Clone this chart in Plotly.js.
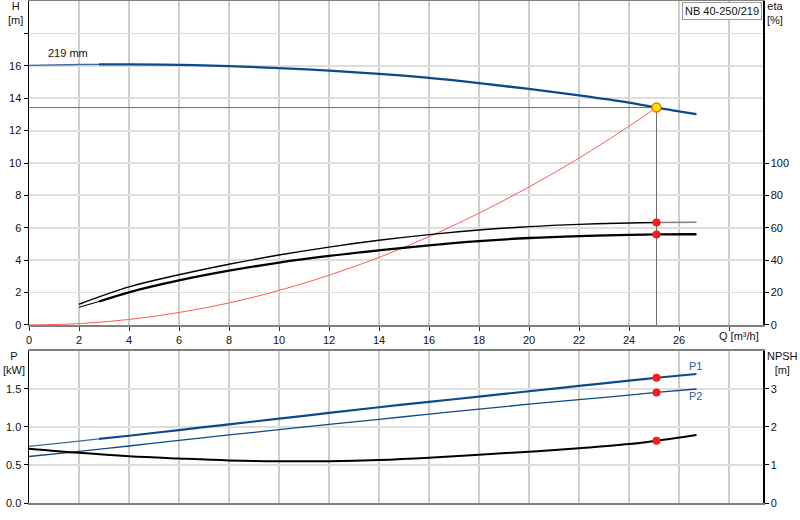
<!DOCTYPE html>
<html><head><meta charset="utf-8">
<script src="https://cdn.plot.ly/plotly-3.0.1.min.js"></script>
<style>html,body{margin:0;padding:0;background:#fff}#chart{width:800px;height:520px}</style>
</head><body><div id="chart"></div>
<script>
// ---- tick labels ----
const qTicks = [0,2,4,6,8,10,12,14,16,18,20,22,24,26,28];
const qTickText = ['0','2','4','6','8','10','12','14','16','18','20','22','24','26',''];
const hTicks = [0,2,4,6,8,10,12,14,16,18];
const hTickText = ['0','2','4','6','8','10','12','14','16',''];
const etaTicks = [0,20,40,60,80,100];
const pTicks = [0,0.5,1,1.5];
const pTickText = ['0.0','0.5','1.0','1.5'];
const npshTicks = [0,1,2,3];

// ---- duty point flow ----
const dutyQ = 25.1;
const startQ = 2.8;

// ---- pump head curve (219 mm) ----
const qHead = [0,2,2.8,4,6,8,10,12,14,16,18,20,22,24,25.1,26.7];
const headH = [16.03,16.08,16.09,16.09,16.06,15.98,15.86,15.7,15.5,15.25,14.93,14.57,14.17,13.72,13.42,13.02];

// ---- system curve ----
const qSystem = [0,2,4,6,8,10,12,14,16,18,20,22,24,25.1];
const systemH = [0,0.085,0.34,0.77,1.36,2.13,3.07,4.17,5.45,6.9,8.52,10.3,12.27,13.42];

// ---- efficiencies ----
const qEta1 = [2,4,6,8,10,12,14,16,18,20,22,24,25.1,26.7];
const eta1  = [12.8,23.5,31,37.5,43.2,48.1,52.3,55.8,58.6,60.7,62.1,63,63.3,63.4];
const qEta2 = [2,2.8,4,6,8,10,12,14,16,18,20,22,24,25.1,26.7];
const eta2  = [11,14.5,20.2,27.5,33.5,38.5,42.6,46.1,49.2,51.8,53.7,54.9,55.6,55.9,56];

// ---- power ----
const qP1 = [0,2,2.8,4,6,8,10,12,14,16,18,20,22,24,25.1,26.7];
const p1  = [0.745,0.815,0.843,0.885,0.96,1.035,1.11,1.185,1.26,1.33,1.40,1.47,1.54,1.61,1.648,1.697];
const qP2 = [0,2,4,6,8,10,12,14,16,18,20,22,24,25.1,26.7];
const p2  = [0.612,0.68,0.75,0.825,0.895,0.965,1.035,1.10,1.17,1.235,1.30,1.36,1.42,1.455,1.50];

// ---- NPSH ----
const qNpsh = [0,2,4,6,8,10,12,14,16,18,20,22,24,25.1,26.7];
const npsh  = [1.43,1.32,1.23,1.17,1.12,1.10,1.10,1.13,1.19,1.27,1.35,1.44,1.55,1.64,1.79];

function seg(xs, ys, lo, hi){
  const x=[],y=[];
  xs.forEach((v,i)=>{ if(v>=lo && v<=hi){x.push(v);y.push(ys[i]);} });
  return {x,y};
}
function at(xs, ys, q){ return ys[xs.indexOf(q)]; }

const BLUE = '#0d4a8b';
const dutyH = at(qHead, headH, dutyQ);

function line(s, xa, ya, color, width){
  return {x:s.x, y:s.y, xaxis:xa, yaxis:ya, mode:'lines', line:{color:color, width:width, shape:'spline', smoothing:1}, hoverinfo:'skip'};
}
function dots(xv, yv, xa, ya){
  return {x:xv, y:yv, xaxis:xa, yaxis:ya, mode:'markers', marker:{size:8, color:'#ff1a1a'}, hoverinfo:'skip'};
}

const traces = [
  line({x:qSystem, y:systemH}, 'x','y', '#ff5a5a', 1),
  {x:[0,dutyQ,dutyQ], y:[dutyH,dutyH,0], xaxis:'x', yaxis:'y', mode:'lines', line:{color:'#6e6e6e', width:1}, hoverinfo:'skip'},
  line(seg(qHead,headH,0,startQ), 'x','y', '#3f6a9c', 1.3),
  line(seg(qHead,headH,startQ,99), 'x','y', BLUE, 2.3),
  line(seg(qEta1,eta1,0,dutyQ), 'x','y2', '#000', 1.4),
  line(seg(qEta1,eta1,dutyQ,99), 'x','y2', '#808080', 1.6),
  line(seg(qEta2,eta2,0,startQ), 'x','y2', '#000', 1.1),
  line(seg(qEta2,eta2,startQ,99), 'x','y2', '#000', 2.3),
  dots([dutyQ,dutyQ],[at(qEta1,eta1,dutyQ), at(qEta2,eta2,dutyQ)], 'x','y2'),
  {x:[dutyQ], y:[dutyH], xaxis:'x', yaxis:'y', mode:'markers', marker:{size:9, color:'#ffe600', line:{color:'#ff6a00', width:1.5}}, hoverinfo:'skip'},
  line(seg(qP1,p1,0,startQ), 'x2','y3', '#3f6a9c', 1.3),
  line(seg(qP1,p1,startQ,99), 'x2','y3', BLUE, 2.2),
  line({x:qP2, y:p2}, 'x2','y3', BLUE, 1.3),
  line({x:qNpsh, y:npsh}, 'x2','y4', '#000', 2),
  dots([dutyQ,dutyQ],[at(qP1,p1,dutyQ), at(qP2,p2,dutyQ)], 'x2','y3'),
  dots([dutyQ],[at(qNpsh,npsh,dutyQ)], 'x2','y4')
];

const FONT = {family:'Liberation Sans, Arial, sans-serif', size:11, color:'#111'};
const GRIDX = '#cdcdcd', GRIDY = '#dedede';

const layout = {
  width:800, height:520,
  margin:{l:29, r:37, t:1, b:17},
  paper_bgcolor:'#fff', plot_bgcolor:'#fff',
  showlegend:false,
  font:FONT,
  xaxis:{domain:[0,1], anchor:'y', range:[0,29.36], tickmode:'array', tickvals:qTicks, ticktext:qTickText,
         ticks:'outside', ticklen:4, tickcolor:'#333', showgrid:true, gridcolor:GRIDX, gridwidth:1.3,
         showline:true, linecolor:'#808080', linewidth:2, mirror:true, zeroline:false, tickfont:FONT},
  yaxis:{domain:[0.3546,1], anchor:'x', range:[0,20], tickmode:'array', tickvals:hTicks, ticktext:hTickText,
         ticks:'outside', ticklen:4, tickcolor:'#000', showgrid:true, gridcolor:GRIDY, gridwidth:1.8,
         showline:true, linecolor:'#000', linewidth:1.5, zeroline:false, tickfont:FONT},
  yaxis2:{overlaying:'y', anchor:'x', side:'right', range:[0,200], tickmode:'array', tickvals:etaTicks,
         ticks:'outside', ticklen:4, tickcolor:'#000', showgrid:false, showline:true, linecolor:'#000', linewidth:1.5,
         zeroline:false, tickfont:FONT},
  xaxis2:{domain:[0,1], anchor:'y3', range:[0,29.36], tickmode:'array', tickvals:qTicks, showticklabels:false,
         ticks:'', showgrid:true, gridcolor:GRIDX, gridwidth:1.3, showline:true, linecolor:'#808080', linewidth:2,
         mirror:true, zeroline:false},
  yaxis3:{domain:[0,0.3028], anchor:'x2', range:[0,2], tickmode:'array', tickvals:pTicks, ticktext:pTickText,
         ticks:'outside', ticklen:4, tickcolor:'#000', showgrid:true, gridcolor:GRIDY, gridwidth:1.8,
         showline:true, linecolor:'#000', linewidth:1.5, zeroline:false, tickfont:FONT},
  yaxis4:{overlaying:'y3', anchor:'x2', side:'right', range:[0,4], tickmode:'array', tickvals:npshTicks,
         ticks:'outside', ticklen:4, tickcolor:'#000', showgrid:false, showline:true, linecolor:'#000', linewidth:1.5,
         zeroline:false, tickfont:FONT},
  annotations:[
    {text:'H<br>[m]', xref:'paper', yref:'paper', x:-0.019, y:1.006, xanchor:'center', yanchor:'top', showarrow:false, font:FONT},
    {text:'eta<br>[%]', xref:'paper', yref:'paper', x:1.016, y:1.006, xanchor:'center', yanchor:'top', showarrow:false, font:FONT},
    {text:'P<br>[kW]', xref:'paper', yref:'y3 domain', x:-0.02, y:1.02, xanchor:'center', yanchor:'top', showarrow:false, font:FONT},
    {text:'NPSH<br>[m]', xref:'paper', yref:'y3 domain', x:1.027, y:1.02, xanchor:'center', yanchor:'top', showarrow:false, font:FONT},
    {text:'Q [m³/h]', xref:'x', yref:'y domain', x:28.4, y:0, yshift:-3, xanchor:'center', yanchor:'top', showarrow:false, font:FONT},
    {text:'219 mm', xref:'x', yref:'y', x:1.55, y:16.8, xanchor:'center', yanchor:'middle', showarrow:false, font:FONT},
    {text:'P1', xref:'x2', yref:'y3', x:26.64, y:1.80, xanchor:'center', yanchor:'middle', showarrow:false, font:{family:FONT.family, size:11, color:'#1f5f9f'}},
    {text:'P2', xref:'x2', yref:'y3', x:26.64, y:1.41, xanchor:'center', yanchor:'middle', showarrow:false, font:{family:FONT.family, size:11, color:'#1f5f9f'}},
    {text:'NB 40-250/219', xref:'paper', yref:'paper', x:0.999, y:0.998, xanchor:'right', yanchor:'top', showarrow:false,
     font:FONT, bgcolor:'#fff', bordercolor:'#9a9a9a', borderwidth:1, borderpad:2}
  ]
};

Plotly.newPlot('chart', traces, layout, {staticPlot:true, displayModeBar:false});
</script>
</body></html>
